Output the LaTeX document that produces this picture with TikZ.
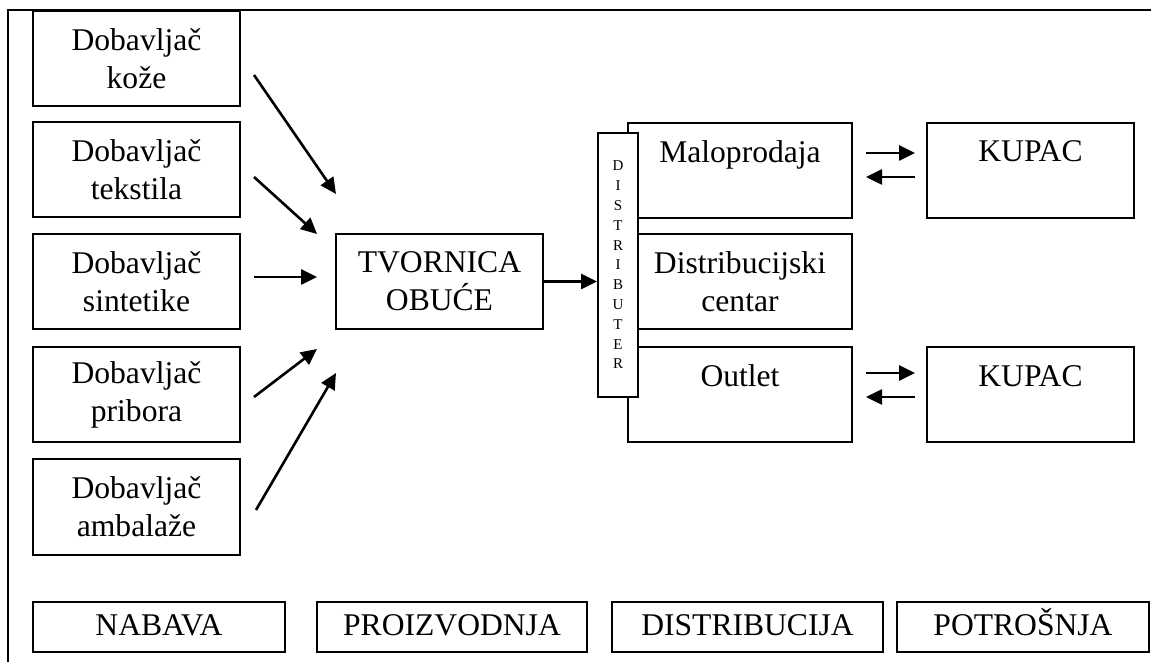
\documentclass[tikz,border=0pt]{standalone}
\usepackage{fontspec}
\setmainfont{Liberation Serif}
\usetikzlibrary{arrows.meta}
\tikzset{
  box/.style={draw, line width=1pt, align=center, inner sep=0pt,
    font=\fontsize{15.8}{19}\selectfont},
  supbox/.style={box, minimum width=103.5pt, minimum height=47.5pt},
  shopbox/.style={box, minimum width=112pt, minimum height=47.5pt},
  distbox/.style={box, fill=white, minimum width=20pt, minimum height=132pt,
    font=\fontsize{7.5}{9.9}\selectfont},
  phase/.style={box, minimum height=25pt, text height=11pt, text depth=3pt},
  arr/.style={-{Triangle[length=8pt,width=7.5pt]}, line width=1.3pt},
}
\begin{document}
\begin{tikzpicture}[x=0.5pt, y=-0.5pt]
  \useasboundingbox (0,0) rectangle (1151,662);
  % okvir
  \draw[line width=0.9pt] (1151,10) -- (8,10) -- (8,662);
  % nabava
  \node[supbox] (koza) at (136.5,58.5) {Dobavljač\\kože};
  \node[supbox] (tekstil) at (136.5,170) {Dobavljač\\tekstila};
  \node[supbox] (sintetika) at (136.5,281.5) {Dobavljač\\sintetike};
  \node[supbox] (pribor) at (136.5,395) {Dobavljač\\pribora};
  \node[supbox] (ambalaza) at (136.5,507) {Dobavljač\\ambalaže};
  % proizvodnja
  \node[supbox] (tvornica) at (439.5,281.5) {TVORNICA\\OBUĆE};
  % distribucija
  \node[shopbox] (malo) at (740,170.5) {Maloprodaja\\~};
  \node[shopbox] (centar) at (740,282) {Distribucijski\\centar};
  \node[shopbox] (outlet) at (740,395) {Outlet\\~};
  \node[distbox] (distr) at (618,265) {D\\I\\S\\T\\R\\I\\B\\U\\T\\E\\R};
  % kupci
  \node[supbox] (kupac1) at (1030.5,170.5) {KUPAC\\~};
  \node[supbox] (kupac2) at (1030.5,395) {KUPAC\\~};
  % faze
  \node[phase, minimum width=126pt] (nabava) at (159,627) {NABAVA};
  \node[phase, minimum width=135pt] (proizvodnja) at (452,627) {PROIZVODNJA};
  \node[phase, minimum width=135.5pt] (distribucija) at (747.5,627) {DISTRIBUCIJA};
  \node[phase, minimum width=126pt] (potrosnja) at (1023,627) {POTROŠNJA};
  % strelice dobavljaci -> tvornica
  \coordinate (p1) at (254,75);  \coordinate (q1) at (336,194);
  \coordinate (p2) at (254,177); \coordinate (q2) at (317,234);
  \coordinate (p3) at (254,277); \coordinate (q3) at (317,277);
  \coordinate (p4) at (254,397); \coordinate (q4) at (317,349);
  \coordinate (p5) at (256,510); \coordinate (q5) at (336,373);
  \foreach \i in {1,...,5}
    \draw[arr] (p\i) -- (q\i);
  \draw[arr] (tvornica.east) -- (tvornica.east -| distr.west);
  % kupac
  \draw[arr, shorten <=6.5pt, shorten >=5.5pt] ([yshift=8.75pt]malo.east) -- ([yshift=8.75pt]kupac1.west);
  \draw[arr, shorten <=5.5pt, shorten >=6.5pt] ([yshift=-3.25pt]kupac1.west) -- ([yshift=-3.25pt]malo.east);
  \draw[arr, shorten <=6.5pt, shorten >=5.5pt] ([yshift=11pt]outlet.east) -- ([yshift=11pt]kupac2.west);
  \draw[arr, shorten <=5.5pt, shorten >=6.5pt] ([yshift=-1pt]kupac2.west) -- ([yshift=-1pt]outlet.east);
\end{tikzpicture}
\end{document}
